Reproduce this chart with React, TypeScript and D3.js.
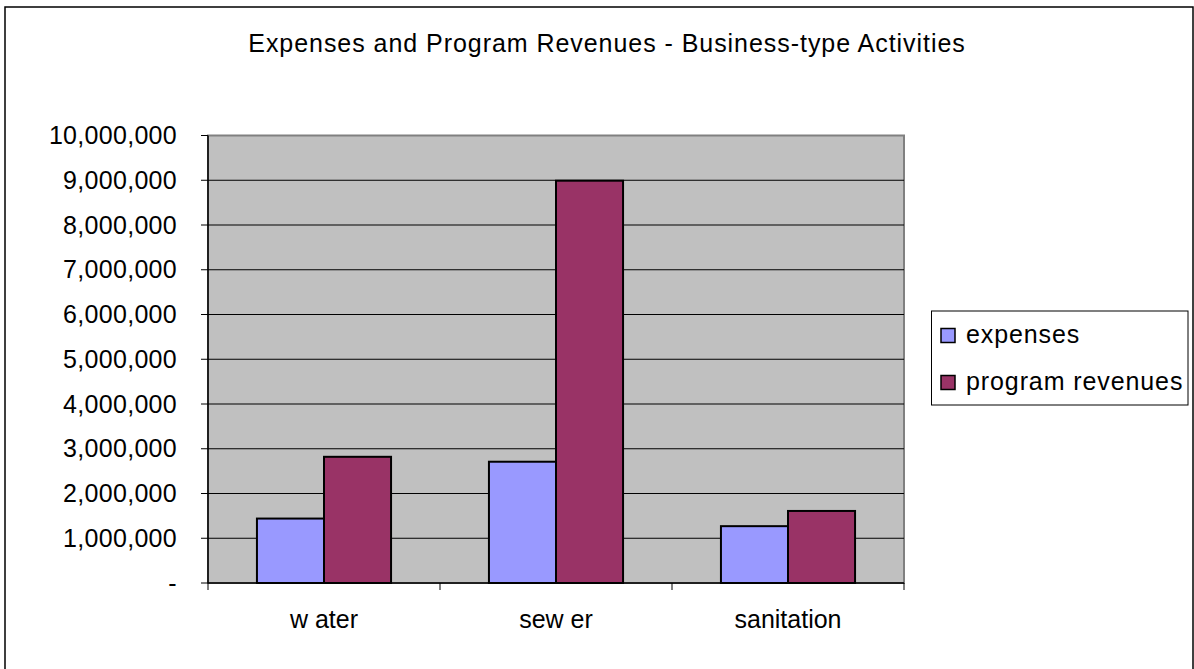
import React from "react";
import * as d3 from "d3";

const categories = ["w ater", "sew er", "sanitation"];
const seriesNames = ["expenses", "program revenues"];
const expenses = [1440000, 2710000, 1270000];
const programRevenues = [2820000, 8990000, 1610000];
const yTicks = [0, 1000000, 2000000, 3000000, 4000000, 5000000, 6000000, 7000000, 8000000, 9000000, 10000000];
const title = "Expenses and Program Revenues - Business-type Activities";
const colors = ["#9999FF", "#993366"];

export default function App() {
  const W = 1194, H = 669;
  const plot = { left: 208, right: 904, top: 135.5, bottom: 583 };
  const font = "'Liberation Sans', Arial, sans-serif";
  const fs = 25;

  const x = d3.scaleBand<string>().domain(categories).range([plot.left, plot.right]).paddingInner(0).paddingOuter(0);
  const xInner = d3.scaleBand<string>().domain(seriesNames).range([0, x.bandwidth()]).paddingInner(0).paddingOuter(0.73);
  const y = d3.scaleLinear().domain([0, 10000000]).range([plot.bottom, plot.top]);
  const fmt = d3.format(",");
  const series = [expenses, programRevenues];

  const catTicks = [plot.left, ...categories.map((c) => (x(c) as number) + x.bandwidth())];

  return (
    <svg width={W} height={H} style={{ position: "absolute", left: 0, top: 0, background: "#fff" }} fontFamily={font}>
      <rect x={5} y={7} width={1188} height={670} fill="#fff" stroke="#000" strokeWidth={1.5} />
      <text x={607} y={52} textAnchor="middle" fontSize={fs} letterSpacing={0.95} fill="#000">{title}</text>
      <rect x={plot.left} y={plot.top} width={plot.right - plot.left} height={plot.bottom - plot.top} fill="#C0C0C0" stroke="#808080" strokeWidth={2} />
      {yTicks.map((t) => (
        <g key={t}>
          {t > 0 && t < 10000000 && (
            <line x1={plot.left} x2={plot.right} y1={y(t)} y2={y(t)} stroke="#000" strokeWidth={1} />
          )}
          <line x1={plot.left - 7} x2={plot.left} y1={y(t)} y2={y(t)} stroke="#000" strokeWidth={1} />
          <text x={177} y={y(t) + 8.5} textAnchor="end" fontSize={fs} letterSpacing={0.3} fill="#000">{t === 0 ? "-" : fmt(t)}</text>
        </g>
      ))}
      {categories.map((c, i) => (
        <g key={c}>
          {seriesNames.map((s, j) => {
            const v = series[j][i];
            const bx = (x(c) as number) + (xInner(s) as number);
            return (
              <rect key={s} x={bx} y={y(v)} width={xInner.bandwidth()} height={y(0) - y(v)} fill={colors[j]} stroke="#000" strokeWidth={2} />
            );
          })}
          <text x={(x(c) as number) + x.bandwidth() / 2} y={628} textAnchor="middle" fontSize={fs} fill="#000">{c}</text>
        </g>
      ))}
      <line x1={plot.left} x2={plot.left} y1={plot.top} y2={plot.bottom} stroke="#000" strokeWidth={1.5} />
      <line x1={plot.left} x2={plot.right} y1={plot.bottom} y2={plot.bottom} stroke="#000" strokeWidth={1.5} />
      {catTicks.map((tx, i) => (
        <line key={i} x1={tx} x2={tx} y1={plot.bottom} y2={plot.bottom + 7} stroke="#000" strokeWidth={1} />
      ))}
      <rect x={931.5} y={311} width={256.5} height={94} fill="#fff" stroke="#000" strokeWidth={1} />
      {seriesNames.map((s, j) => (
        <g key={s}>
          <rect x={941} y={328.5 + j * 47} width={14} height={14} fill={colors[j]} stroke="#000" strokeWidth={1.5} />
          <text x={966} y={343 + j * 47} fontSize={fs} letterSpacing={0.9} fill="#000">{s}</text>
        </g>
      ))}
    </svg>
  );
}
